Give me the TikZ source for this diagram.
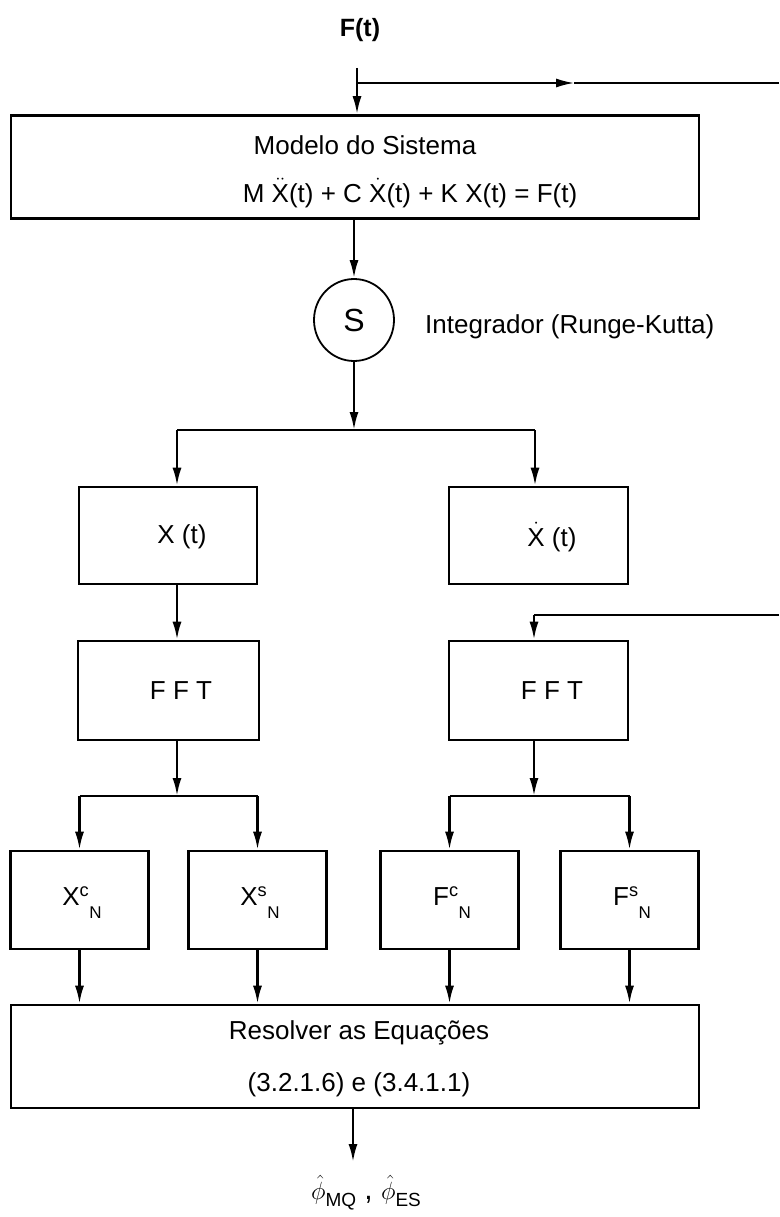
\documentclass[tikz,border=0pt]{standalone}
\usepackage{fontspec}
\setmainfont{Liberation Sans}
\setsansfont{Liberation Sans}
\usepackage{amsmath}
\usetikzlibrary{arrows.meta,calc,shapes.geometric}
\newcommand{\dX}{\ensuremath{\dot{\mbox{X}}}}
\newcommand{\ddX}{\ensuremath{\ddot{\mbox{X}}}}
\newcommand{\csub}[3]{#1\textsuperscript{#2}\raisebox{-0.5em}{\fontsize{17}{17}\selectfont #3}}
\begin{document}
\begin{tikzpicture}[x=1pt,y=-1pt,
  box/.style={draw, line width=2.6pt, inner sep=0pt},
  wire/.style={line width=2.4pt},
  conn/.style={line width=2.4pt, -{Latex[length=18pt,width=9pt]}},
  fbline/.style={line width=1.8pt},
  fbconn/.style={line width=1.8pt, -{Latex[length=18pt,width=9pt]}},
  txt/.style={font=\fontsize{26}{31}\selectfont, inner sep=0pt},
  font=\fontsize{26}{31}\selectfont]
\useasboundingbox (0,0) rectangle (779,1217);

% input
\node[font=\fontsize{25}{30}\selectfont\bfseries] (F) at (360,30) {F(t)};
\coordinate (in) at (357,68);
\coordinate (br) at (357,83);
\coordinate (mid1) at (574,83);
\coordinate (fbR1) at (779,83);

% model
\node[box, minimum width=688pt, minimum height=103pt] (model) at (355,167) {};
\node[txt] (modelT) at (365,145) {Modelo do Sistema};
\node[txt] (modelE) at (410,193) {M \ddX(t) + C \dX(t) + K X(t) = F(t)};

\draw[wire] (in) -- (br);
\draw[conn] (br) -- (br |- model.north);
\draw[fbconn] (br) -- (mid1);
\draw[fbline] (mid1) -- (fbR1);

% integrator
\node[draw, ellipse, line width=1.8pt, minimum width=80pt, minimum height=82pt, inner sep=0pt,
      font=\fontsize{32}{32}\selectfont] (S) at (354,320) {S};
\node[txt, anchor=west] (integ) at (425,327) {Integrador (Runge-Kutta)};
\draw[conn] (S |- model.south) -- (S.north);
\coordinate (j1) at (354,430);
\coordinate (j1L) at (177,430);
\coordinate (j1R) at (535,430);
\draw[conn] (S.south) -- (j1);
\draw[wire] (j1L) -- (j1R);

% X(t), Xdot(t)
\node[box, minimum width=178pt, minimum height=97pt] (xt) at (168,535.5) {};
\node[box, minimum width=179pt, minimum height=97pt] (xdt) at (538.5,535.5) {};
\node[txt] (xtT) at (182,537) {X (t)};
\node[txt] (xdtT) at (552,537) {\dX\ (t)};
\draw[conn] (j1L) -- (j1L |- xt.north);
\draw[conn] (j1R) -- (j1R |- xdt.north);

% FFT
\node[box, minimum width=181pt, minimum height=99pt] (fftL) at (168.5,690.5) {};
\node[box, minimum width=179pt, minimum height=99pt] (fftR) at (538.5,690.5) {};
\node[txt] (fftLT) at (181,691) {F F T};
\node[txt] (fftRT) at (552,691) {F F T};
\draw[conn] (xt.south -| j1L) -- (j1L |- fftL.north);

\coordinate (fb2) at (779,615);
\coordinate (fb2c) at (534,615);
\draw[fbline] (fb2) -- (fb2c);
\draw[conn] (fb2c) -- (fb2c |- fftR.north);

% coefficient boxes
\node[box, minimum width=138pt, minimum height=98pt] (xc) at (79.5,900) {};
\node[box, minimum width=138pt, minimum height=98pt] (xs) at (257.5,900) {};
\node[box, minimum width=138pt, minimum height=98pt] (fc) at (449.5,900) {};
\node[box, minimum width=138pt, minimum height=98pt] (fs) at (629.5,900) {};
\node[txt] (xcT) at (82,903) {\csub{X}{c}{N}};
\node[txt] (xsT) at (260,903) {\csub{X}{s}{N}};
\node[txt] (fcT) at (452,903) {\csub{F}{c}{N}};
\node[txt] (fsT) at (632,903) {\csub{F}{s}{N}};

\coordinate (j2L) at (177,796);
\coordinate (j2R) at (534,796);
\draw[conn] (fftL.south -| j2L) -- (j2L);
\draw[conn] (fftR.south -| j2R) -- (j2R);
\draw[wire] (xc |- j2L) -- (xs |- j2L);
\draw[wire] (fc |- j2R) -- (fs |- j2R);
\draw[conn] (xc |- j2L) -- (xc.north);
\draw[conn] (xs |- j2L) -- (xs.north);
\draw[conn] (fc |- j2R) -- (fc.north);
\draw[conn] (fs |- j2R) -- (fs.north);

% resolver
\node[box, minimum width=688pt, minimum height=103pt] (res) at (355,1056.5) {};
\node[txt] (resT1) at (359,1033) {Resolver as Equações};
\node[txt] (resT2) at (359,1085) {(3.2.1.6) e (3.4.1.1)};
\draw[conn] (xc.south) -- (xc.south |- res.north);
\draw[conn] (xs.south) -- (xs.south |- res.north);
\draw[conn] (fc.south) -- (fc.south |- res.north);
\draw[conn] (fs.south) -- (fs.south |- res.north);

\coordinate (out) at (353,1162);
\draw[conn] (res.south -| out) -- (out);
\node[font=\fontsize{30}{34}\selectfont, inner sep=0pt] (phi) at (366,1193)
  {$\hat{\phi}$\raisebox{-0.25em}{\fontsize{19}{19}\selectfont MQ} , $\hat{\phi}$\raisebox{-0.25em}{\fontsize{19}{19}\selectfont ES}};
\end{tikzpicture}
\end{document}
